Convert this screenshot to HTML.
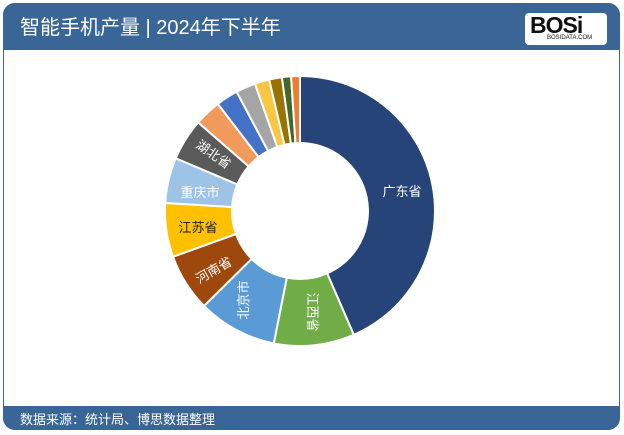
<!DOCTYPE html>
<html><head><meta charset="utf-8"><style>
html,body{margin:0;padding:0;background:#fff;}
body{width:624px;height:435px;position:relative;overflow:hidden;font-family:"Liberation Sans","Noto Sans CJK SC",sans-serif;}
.frame{position:absolute;left:3px;top:3px;width:615px;height:424px;border:1px solid #3a6799;border-radius:12px;}
.hdr{position:absolute;left:3px;top:3px;width:617px;height:47px;background:#396697;border-radius:12px 12px 0 0;}
.hdr .t{position:absolute;left:17px;top:8px;color:#fff;font-size:20px;}
.logo{position:absolute;left:522px;top:10px;width:82px;height:32px;background:#fff;border-radius:4px;}
.logo b{position:absolute;left:5px;top:-1px;font:900 23px "Liberation Sans",sans-serif;color:#111;letter-spacing:-1px;}
.logo i{position:absolute;left:22px;top:22px;font:6px "Liberation Sans",sans-serif;font-style:normal;color:#111;}
.ftr{position:absolute;left:3px;top:406px;width:617px;height:24px;background:#396697;border-radius:0 0 12px 12px;}
.ftr span{position:absolute;left:17px;top:3px;color:#fff;font-size:13px;}
svg{position:absolute;left:0;top:0;}
</style></head><body>
<div class="frame"></div>
<div class="hdr"><span class="t">智能手机产量 | 2024年下半年</span>
<div class="logo"><b>BOSi</b><i>BOSIDATA.COM</i></div></div>
<svg width="624" height="435" id="s">
<g id="sl"></g>
<g font-family="Liberation Sans,Noto Sans CJK SC,sans-serif" font-size="13" text-anchor="middle">
<text x="402" y="196" fill="#fff">广东省</text>
<text transform="translate(308,312) rotate(90)" fill="#fff">江西省</text>
<text transform="translate(248,300) rotate(-90)" fill="#fff">北京市</text>
<text transform="translate(216,274) rotate(-30)" fill="#fff">河南省</text>
<text x="198" y="232" fill="#222">江苏省</text>
<text x="200" y="197" fill="#fff">重庆市</text>
<text transform="translate(211,158) rotate(35)" fill="#fff">湖北省</text>
</g>
</svg>
<div class="ftr"><span>数据来源：统计局、博思数据整理</span></div>
<script>
var d=[[156.5,'#264478'],[191.2,'#70AD47'],[225.3,'#5B9BD5'],[250.2,'#9E480E'],[273.4,'#FFC000'],[293,'#9DC3E6'],[311,'#5a5a5a'],[322.5,'#F09A5C'],[332,'#4472C4'],[340.5,'#A5A5A5'],[346.8,'#F7C744'],[352.3,'#997300'],[356.2,'#43682B'],[360,'#ED7D31']];
var cx=300,cy=211,R=135,r=68,a=0,h='';
function p(ang,rad){var t=ang*Math.PI/180;return (cx+rad*Math.sin(t)).toFixed(2)+','+(cy-rad*Math.cos(t)).toFixed(2);}
d.forEach(function(s){var b=s[0],l=(b-a)>180?1:0;
h+='<path d="M'+p(a,R)+'A'+R+','+R+' 0 '+l+' 1 '+p(b,R)+'L'+p(b,r)+'A'+r+','+r+' 0 '+l+' 0 '+p(a,r)+'Z" fill="'+s[1]+'" stroke="#fff" stroke-width="2"/>';a=b;});
document.getElementById('sl').innerHTML=h;
</script>
</body></html>
